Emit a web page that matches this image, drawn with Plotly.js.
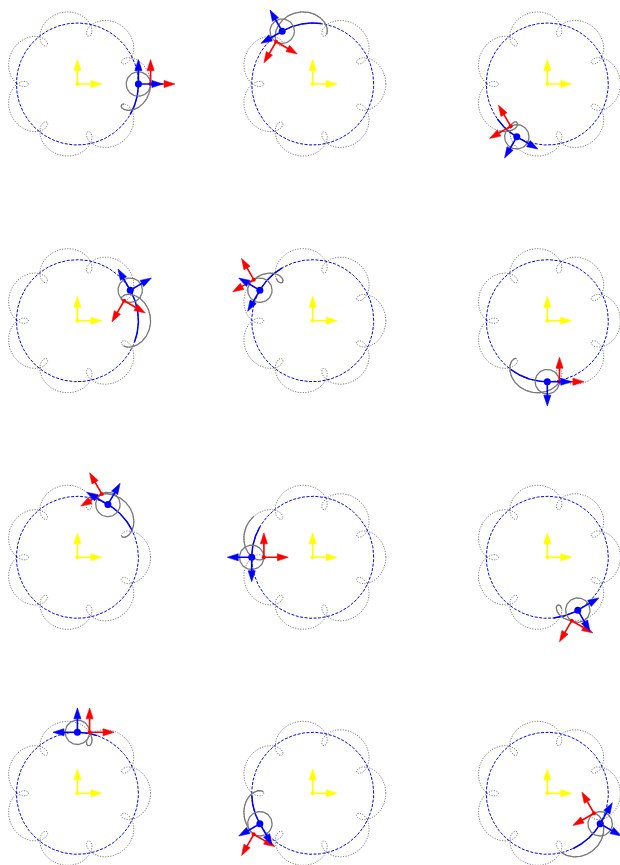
<!DOCTYPE html>
<html><head><meta charset="utf-8">
<script src="https://cdn.plot.ly/plotly-3.0.1.min.js"></script>
<style>html,body{margin:0;padding:0;background:#fff}</style>
</head><body><div id="chart" style="width:620px;height:865px"></div>
<script>
// ---- model values ----
const deferentRadius = 5;          // big blue circle
const epicycleRadius = 1;          // small grey circle
const epicycleSpeed = 8;           // epicycle angle = 8 x deferent angle
const frameLength = 2;             // arrow length
const panelThetaDeg = [0, 120, 240, 30, 150, 270, 60, 180, 300, 90, 210, 330];
const panelTrailDeg = [30, 38, 25, 50, 30, 37, 34, 30, 24, 19, 28, 35];

// ---- layout geometry ----
const W = 620, H = 865;
const originPxX = [77.4, 312.7, 547.3];
const originPxY = [84, 320.7, 557.3, 793.3];
const pxPerUnit = 12.2;
const halfPx = 100;

const D2R = Math.PI / 180;
function center(t) { return [deferentRadius * Math.cos(t), deferentRadius * Math.sin(t)]; }
function planet(t) {
  const c = center(t);
  return [c[0] + epicycleRadius * Math.cos(epicycleSpeed * t), c[1] + epicycleRadius * Math.sin(epicycleSpeed * t)];
}
function sample(f, a, b, n) {
  const xs = [], ys = [];
  for (let k = 0; k <= n; k++) { const p = f(a + (b - a) * k / n); xs.push(p[0]); ys.push(p[1]); }
  return [xs, ys];
}
function arrows(p, ang, color, xa, ya) {
  const xs = [], ys = [], sz = [];
  [ang, ang + Math.PI / 2].forEach(a => {
    xs.push(p[0], p[0] + frameLength * Math.cos(a), null);
    ys.push(p[1], p[1] + frameLength * Math.sin(a), null);
    sz.push(0, 11.5, 0);
  });
  return { type: 'scatter', mode: 'lines+markers', x: xs, y: ys, xaxis: xa, yaxis: ya,
    line: { color: color, width: 1.6 }, hoverinfo: 'skip',
    marker: { symbol: 'arrow', angleref: 'previous', size: sz, color: color, opacity: 1, line: { width: 0.6, color: color } } };
}

const traces = [];
const layout = { width: W, height: H, margin: { l: 0, r: 0, t: 0, b: 0 }, showlegend: false,
  paper_bgcolor: '#ffffff', plot_bgcolor: 'rgba(0,0,0,0)' };

panelThetaDeg.forEach((thDeg, i) => {
  const row = Math.floor(i / 3), col = i % 3;
  const n = i === 0 ? '' : String(i + 1);
  const xa = 'x' + n, ya = 'y' + n;
  const ox = originPxX[col], oy = originPxY[row];
  const x0 = Math.max(0, ox - halfPx), x1 = Math.min(W, ox + halfPx);
  const y0 = Math.max(0, oy - halfPx), y1 = Math.min(H, oy + halfPx);
  const ax = { visible: false, showgrid: false, zeroline: false, fixedrange: true };
  layout['xaxis' + n] = Object.assign({}, ax, { domain: [x0 / W, x1 / W], range: [(x0 - ox) / pxPerUnit, (x1 - ox) / pxPerUnit], anchor: ya });
  layout['yaxis' + n] = Object.assign({}, ax, { domain: [1 - y1 / H, 1 - y0 / H], range: [(oy - y1) / pxPerUnit, (oy - y0) / pxPerUnit], anchor: xa });

  const th = thDeg * D2R, tr = panelTrailDeg[i] * D2R;
  const full = sample(planet, 0, 2 * Math.PI, 1600);
  traces.push({ type: 'scatter', mode: 'lines', x: full[0], y: full[1], xaxis: xa, yaxis: ya, hoverinfo: 'skip',
    line: { color: '#7d7d7d', width: 1, dash: '1.2px,1.4px' } });
  const def = sample(center, 0, 2 * Math.PI, 400);
  traces.push({ type: 'scatter', mode: 'lines', x: def[0], y: def[1], xaxis: xa, yaxis: ya, hoverinfo: 'skip',
    line: { color: '#0000ff', width: 1, dash: '3px,1.5px' } });
  const dtr = sample(center, th - tr, th, 60);
  traces.push({ type: 'scatter', mode: 'lines', x: dtr[0], y: dtr[1], xaxis: xa, yaxis: ya, hoverinfo: 'skip',
    line: { color: '#0000ff', width: 1.5 } });
  const ptr = sample(planet, th - tr, th, 300);
  traces.push({ type: 'scatter', mode: 'lines', x: ptr[0], y: ptr[1], xaxis: xa, yaxis: ya, hoverinfo: 'skip',
    line: { color: '#7a7a7a', width: 1.3 } });
  const c = center(th), p = planet(th);
  const epi = sample(t => [c[0] + epicycleRadius * Math.cos(t), c[1] + epicycleRadius * Math.sin(t)], 0, 2 * Math.PI, 100);
  traces.push({ type: 'scatter', mode: 'lines', x: epi[0], y: epi[1], xaxis: xa, yaxis: ya, hoverinfo: 'skip',
    line: { color: '#7a7a7a', width: 1.3 } });
  traces.push(arrows([0, 0], 0, '#ffff00', xa, ya));
  traces.push({ type: 'scatter', mode: 'markers', x: [0], y: [0], xaxis: xa, yaxis: ya, hoverinfo: 'skip',
    marker: { color: '#ffff00', size: 4 } });
  traces.push(arrows(p, epicycleSpeed * th, '#ff0000', xa, ya));
  traces.push({ type: 'scatter', mode: 'markers', x: [p[0]], y: [p[1]], xaxis: xa, yaxis: ya, hoverinfo: 'skip',
    marker: { color: '#ff0000', size: 4 } });
  traces.push(arrows(c, th, '#0000ff', xa, ya));
  traces.push({ type: 'scatter', mode: 'markers', x: [c[0]], y: [c[1]], xaxis: xa, yaxis: ya, hoverinfo: 'skip',
    marker: { color: '#0000ff', size: 7 } });
});

Plotly.newPlot('chart', traces, layout, { staticPlot: true, displayModeBar: false });
</script></body></html>
